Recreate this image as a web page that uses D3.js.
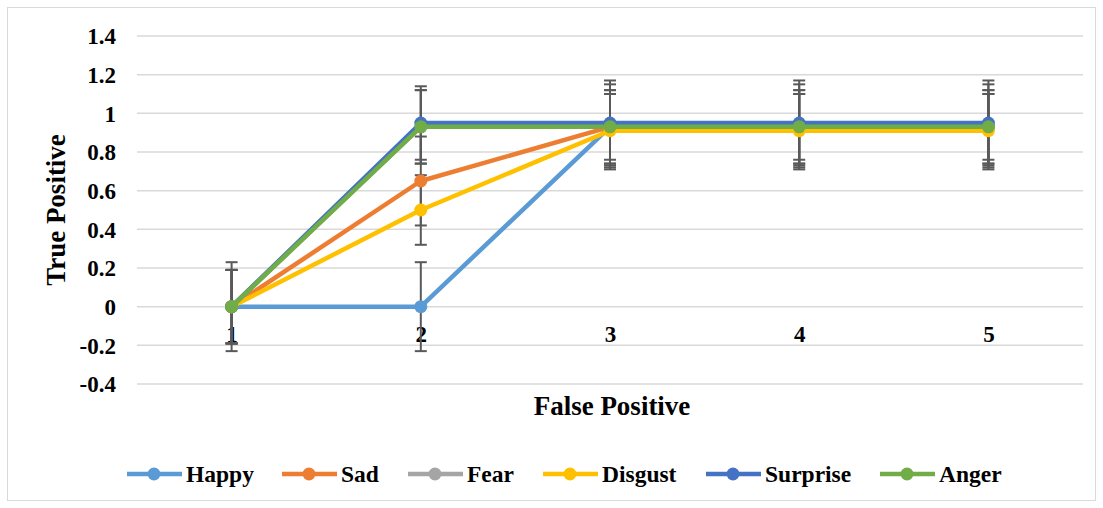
<!DOCTYPE html>
<html>
<head>
<meta charset="utf-8">
<script src="https://cdn.jsdelivr.net/npm/d3@7/dist/d3.min.js"></script>
<style>
  html, body { margin: 0; padding: 0; background: #fff; }
  svg { display: block; }
  text { font-family: "Liberation Serif", "Times New Roman", serif; font-weight: bold; fill: #000; }
</style>
</head>
<body>
<svg id="chart" width="1103" height="508"></svg>
<script>
const categories = [1, 2, 3, 4, 5];
const seriesNames = ["Happy", "Sad", "Fear", "Disgust", "Surprise", "Anger"];
const seriesColors = ["#5B9BD5", "#ED7D31", "#A5A5A5", "#FFC000", "#4472C4", "#70AD47"];
const happy    = [0, 0,    0.93, 0.93, 0.93];
const sad      = [0, 0.65, 0.93, 0.93, 0.93];
const fear     = [0, 0.93, 0.93, 0.93, 0.93];
const disgust  = [0, 0.5,  0.91, 0.91, 0.91];
const surprise = [0, 0.95, 0.95, 0.95, 0.95];
const anger    = [0, 0.93, 0.93, 0.93, 0.93];
const happyErr    = [0.23, 0.23, 0.22, 0.22, 0.22];
const sadErr      = [0.19, 0.23, 0.17, 0.17, 0.17];
const fearErr     = [0.19, 0.19, 0.19, 0.19, 0.19];
const disgustErr  = [0.19, 0.18, 0.19, 0.19, 0.19];
const surpriseErr = [0.19, 0.19, 0.22, 0.22, 0.22];
const angerErr    = [0.19, 0.19, 0.19, 0.19, 0.19];
const yTicks = [-0.4, -0.2, 0, 0.2, 0.4, 0.6, 0.8, 1, 1.2, 1.4];

const seriesValues = [happy, sad, fear, disgust, surprise, anger];
const seriesErrs = [happyErr, sadErr, fearErr, disgustErr, surpriseErr, angerErr];
const series = seriesNames.map((n, i) => ({
  name: n, color: seriesColors[i],
  pts: categories.map((c, j) => ({ c, v: seriesValues[i][j], e: seriesErrs[i][j] }))
}));

const svg = d3.select("#chart");
// outer border
svg.append("rect").attr("x", 7.5).attr("y", 7.5).attr("width", 1088).attr("height", 493)
  .attr("fill", "#fff").attr("stroke", "#d9d9d9").attr("stroke-width", 1);

const L = 137, R = 1083, T = 36, B = 384;
const x = d3.scalePoint().domain(categories).range([L, R]).padding(0.5);
const y = d3.scaleLinear().domain([-0.4, 1.4]).range([B, T]);

// gridlines
svg.append("g").selectAll("line").data(yTicks).join("line")
  .attr("x1", L).attr("x2", R).attr("y1", d => y(d)).attr("y2", d => y(d))
  .attr("stroke", "#d9d9d9").attr("stroke-width", 1.5);

// y axis labels
const yAxis = d3.axisLeft(y).tickValues(yTicks).tickSize(0).tickPadding(0)
  .tickFormat(d => String(+d.toFixed(1)));
const gy = svg.append("g").attr("transform", `translate(116,0)`).call(yAxis);
gy.select(".domain").remove();
gy.selectAll("text").attr("font-size", 23).attr("font-weight", "bold")
  .attr("font-family", "Liberation Serif, serif").attr("fill", "#000").attr("dy", "0.34em");

// x axis labels
const xAxis = d3.axisBottom(x).tickSize(0).tickPadding(0);
const gx = svg.append("g").attr("transform", `translate(0,${y(0) + 35})`).call(xAxis);
gx.select(".domain").remove();
gx.selectAll("text").attr("font-size", 23).attr("font-weight", "bold")
  .attr("font-family", "Liberation Serif, serif").attr("fill", "#000").attr("dy", "0").attr("y", 0);

// error bars (below lines)
const eg = svg.append("g");
series.forEach(s => {
  s.pts.forEach(p => {
    const cx = x(p.c);
    eg.append("line").attr("x1", cx).attr("x2", cx).attr("y1", y(p.v + p.e)).attr("y2", y(p.v - p.e))
      .attr("stroke", "#595959").attr("stroke-width", 2);
    [p.v + p.e, p.v - p.e].forEach(v => {
      eg.append("line").attr("x1", cx - 6).attr("x2", cx + 6).attr("y1", y(v)).attr("y2", y(v))
        .attr("stroke", "#595959").attr("stroke-width", 2);
    });
  });
});

// lines + markers
const line = d3.line().x(d => x(d.c)).y(d => y(d.v));
series.forEach(s => {
  const g = svg.append("g");
  g.append("path").datum(s.pts).attr("d", line).attr("fill", "none")
    .attr("stroke", s.color).attr("stroke-width", 4.5).attr("stroke-linejoin", "round");
  g.selectAll("circle").data(s.pts).join("circle")
    .attr("cx", d => x(d.c)).attr("cy", d => y(d.v)).attr("r", 6.5).attr("fill", s.color);
});

// axis titles
svg.append("text").attr("x", 612).attr("y", 415).attr("text-anchor", "middle")
  .attr("font-size", 27).text("False Positive");
svg.append("text").attr("transform", `translate(65,210) rotate(-90)`).attr("text-anchor", "middle")
  .attr("font-size", 27).text("True Positive");

// legend
const legendX = [127, 282, 408, 543, 706, 880];
const lg = svg.append("g");
series.forEach((s, i) => {
  const lx = legendX[i], ly = 474;
  lg.append("line").attr("x1", lx).attr("x2", lx + 55).attr("y1", ly).attr("y2", ly)
    .attr("stroke", s.color).attr("stroke-width", 4.5);
  lg.append("circle").attr("cx", lx + 27).attr("cy", ly).attr("r", 6.5).attr("fill", s.color);
  lg.append("text").attr("x", lx + 59).attr("y", ly + 8).attr("font-size", 23.5).text(s.name);
});
</script>
</body>
</html>
